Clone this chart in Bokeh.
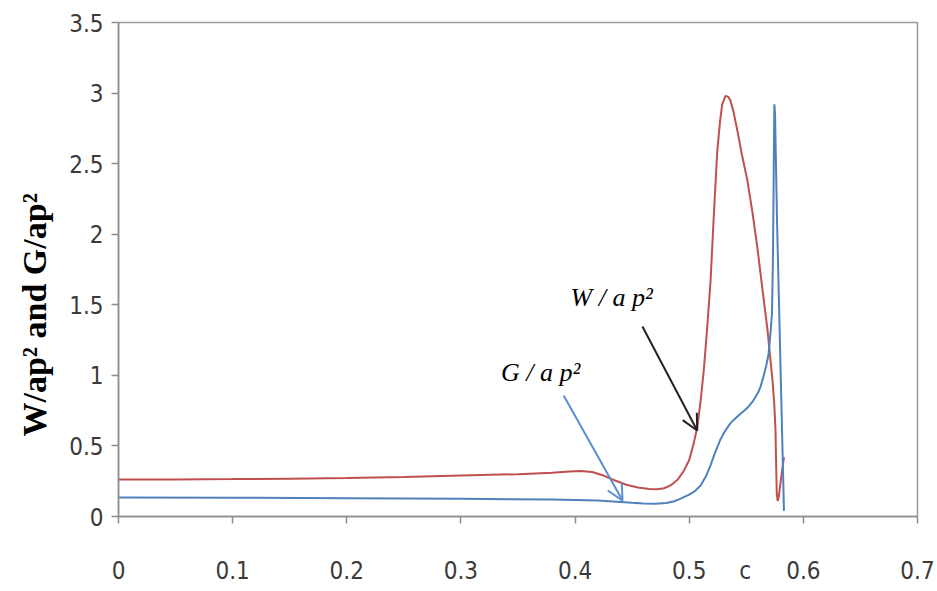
from bokeh.plotting import figure
from bokeh.models import Range1d, FixedTicker, Label, Arrow, OpenHead, LinearAxis, Title
from bokeh.embed import file_html
from bokeh.resources import INLINE

# ---- data ----
w_x = [0, 0.05, 0.1, 0.15, 0.2, 0.25, 0.3, 0.35, 0.38, 0.395, 0.405, 0.415, 0.425, 0.435,
       0.445, 0.455, 0.465, 0.472, 0.478, 0.484, 0.49, 0.495, 0.5, 0.504, 0.507, 0.51, 0.5127,
       0.5157, 0.5187, 0.5216, 0.5245, 0.527, 0.5289, 0.5318, 0.534, 0.536, 0.539, 0.5423,
       0.546, 0.551, 0.5555, 0.5598, 0.564, 0.5686, 0.573, 0.5745, 0.5756, 0.5762, 0.5767,
       0.5775, 0.5785, 0.58, 0.5815, 0.583]
w_y = [0.262, 0.263, 0.265, 0.268, 0.272, 0.28, 0.29, 0.30, 0.31, 0.318, 0.322, 0.315, 0.29,
       0.255, 0.225, 0.205, 0.195, 0.193, 0.2, 0.222, 0.262, 0.32, 0.40, 0.52, 0.63, 0.82, 1.03,
       1.33, 1.67, 2.14, 2.58, 2.8, 2.92, 2.98, 2.975, 2.95, 2.86, 2.73, 2.57, 2.38, 2.15, 1.9,
       1.62, 1.32, 0.96, 0.8, 0.61, 0.35, 0.16, 0.11, 0.14, 0.24, 0.33, 0.42]

g_x = [0, 0.1, 0.2, 0.3, 0.38, 0.42, 0.43, 0.44, 0.45, 0.46, 0.47, 0.48, 0.487, 0.492, 0.5,
       0.505, 0.51, 0.515, 0.519, 0.523, 0.527, 0.531, 0.536, 0.541, 0.546, 0.551, 0.556,
       0.5605, 0.5625, 0.565, 0.5675, 0.5695, 0.571, 0.5725, 0.5733, 0.5738, 0.5742, 0.5746,
       0.5752, 0.577, 0.58, 0.583]
g_y = [0.135, 0.133, 0.13, 0.125, 0.12, 0.113, 0.108, 0.103, 0.097, 0.092, 0.09, 0.095,
       0.108, 0.125, 0.155, 0.18, 0.22, 0.29, 0.37, 0.46, 0.54, 0.6, 0.66, 0.7, 0.735, 0.77,
       0.82, 0.88, 0.92, 0.99, 1.07, 1.15, 1.28, 1.44, 1.8, 2.2, 2.6, 2.92, 2.85, 2.07, 1.06,
       0.04]

x_ticks = [0, 0.1, 0.2, 0.3, 0.4, 0.5, 0.6, 0.7]
y_ticks = [0, 0.5, 1, 1.5, 2, 2.5, 3, 3.5]
x_tick_labels = {0: "0", 0.1: "0.1", 0.2: "0.2", 0.3: "0.3", 0.4: "0.4", 0.5: "0.5",
                 0.6: "0.6", 0.7: "0.7"}
y_tick_labels = {0: "0", 0.5: "0.5", 1: "1", 1.5: "1.5", 2: "2", 2.5: "2.5", 3: "3", 3.5: "3.5"}
x_title = "c"
x_title_at = 0.549
y_title = "W/ap² and G/ap²"

# annotations: text anchors and arrows (start x, start y, end x, end y)
w_label_pos = (0.396, 1.55)
g_label_pos = (0.335, 1.02)
w_arrow = (0.459, 1.346, 0.507, 0.609)
g_arrow = (0.390, 0.857, 0.4416, 0.113)

RED = "#C0504D"
BLUE = "#4F81BD"
AXIS_GRAY = "#8c8c8c"
TICK_FONT = "'Liberation Sans Narrow', 'DejaVu Sans Condensed', 'Roboto Condensed', sans-serif"

p = figure(width=937, height=591, output_backend="svg", toolbar_location=None,
           x_range=Range1d(0, 0.7), y_range=Range1d(0, 3.5),
           min_border_left=118, min_border_right=20, min_border_top=22, min_border_bottom=75)
p.background_fill_color = "white"
p.border_fill_color = "white"
p.outline_line_color = "#9a9a9a"
p.outline_line_width = 1.5
p.xgrid.visible = False
p.ygrid.visible = False

p.line(w_x, w_y, line_color=RED, line_width=2)
p.line(g_x, g_y, line_color=BLUE, line_width=2)

# primary axes
xa = p.xaxis[0]
ya = p.yaxis[0]
xa.ticker = FixedTicker(ticks=x_ticks)
ya.ticker = FixedTicker(ticks=y_ticks)
ya.major_label_overrides = y_tick_labels
for ax in (xa, ya):
    ax.minor_tick_line_color = None
    ax.axis_line_color = AXIS_GRAY
    ax.axis_line_width = 1.5
    ax.major_tick_line_color = AXIS_GRAY
    ax.major_tick_line_width = 1.5
    ax.major_tick_in = 0
    ax.major_tick_out = 7
    ax.major_label_text_font = TICK_FONT
    ax.major_label_text_font_size = "24px"
    ax.major_label_text_color = "#3a3a3a"
ya.major_label_standoff = 8
# the first x axis only carries the tick marks (its labels are not drawn)
xa.major_label_text_color = None
xa.major_label_text_font_size = "2px"
xa.major_label_standoff = 0

# second x axis carries the tick labels and the "c" title between them
lab_ticks = x_ticks + [x_title_at]
lab_over = dict(x_tick_labels)
lab_over[x_title_at] = x_title
xb = LinearAxis(ticker=FixedTicker(ticks=lab_ticks), major_label_overrides=lab_over,
                axis_line_color=None, major_tick_line_color=None, minor_tick_line_color=None,
                major_label_text_font=TICK_FONT, major_label_text_font_size="24px",
                major_label_text_color="#3a3a3a", major_label_standoff=27)
p.add_layout(xb, "below")

# y-axis title
p.add_layout(Title(text=y_title, align="left", offset=80, standoff=24, vertical_align="top",
                   text_font="Liberation Serif", text_font_style="bold",
                   text_font_size="34px", text_color="black"), "left")

# curve labels
for pos, txt in ((w_label_pos, "W / a p²"), (g_label_pos, "G / a p²")):
    p.add_layout(Label(x=pos[0], y=pos[1], text=txt,
                       text_font="Liberation Serif", text_font_style="italic",
                       text_font_size="26px", text_color="black", text_baseline="alphabetic"))

p.add_layout(Arrow(x_start=w_arrow[0], y_start=w_arrow[1], x_end=w_arrow[2], y_end=w_arrow[3],
                   line_color="#222222", line_width=2,
                   end=OpenHead(size=16, line_color="#222222", line_width=2)))
p.add_layout(Arrow(x_start=g_arrow[0], y_start=g_arrow[1], x_end=g_arrow[2], y_end=g_arrow[3],
                   line_color="#5B8FD0", line_width=2,
                   end=OpenHead(size=16, line_color="#5B8FD0", line_width=2)))

open("out.html", "w").write(file_html(p, INLINE))
